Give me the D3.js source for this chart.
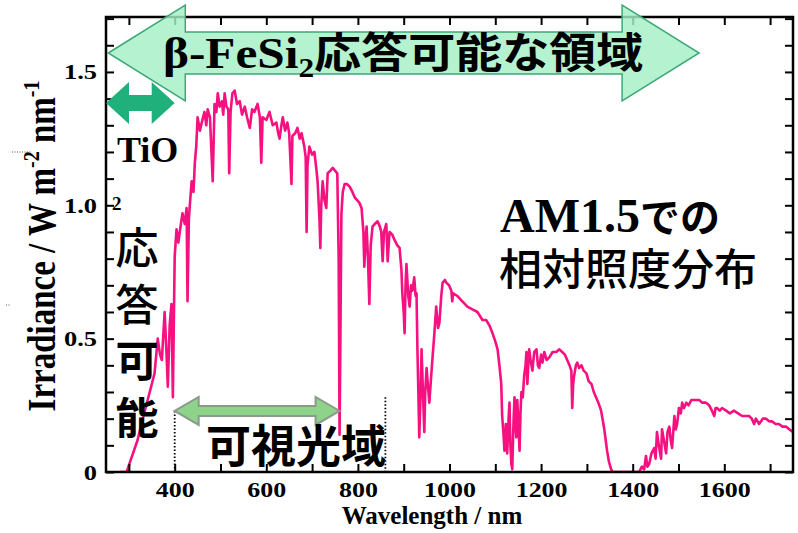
<!DOCTYPE html>
<html>
<head>
<meta charset="utf-8">
<script src="https://cdn.jsdelivr.net/npm/d3@7"></script>
<style>
  body { margin: 0; background: #fff; }
</style>
</head>
<body>
<script>
// AM1.5 spectrum (nm, W m-2 nm-1)
const wavelength = [280,295,305,319,330,341,350,356,363,368,372,378,382,385,389,393,396,400,404,408,411,417,422,426,428,431,433,437,441,444,447,450,455,459,465,469,472,477,483,487,491,494,498,503,506,509,513,517,519,522,526,531,536,542,547,553,558,564,569,574,581,586,589,592,600,607,614,622,626,629,633,636,641,646,650,655,657,663,668,673,677,683,686,688,690,694,700,705,709,712,716,718,720,723,727,731,734,740,745,750,755,758,760,762,764,767,771,776,782,788,793,803,808,812,814,817,819,822,825,828,832,837,843,848,851,854,857,862,865,869,875,880,886,891,895,897,900,902,904,906,910,913,916,919,923,926,928,930,932,934,937,939,942,945,947,950,953,956,960,963,967,971,975,978,982,985,990,993,999,1004,1006,1008,1017,1028,1039,1050,1061,1072,1080,1087,1094,1100,1105,1109,1113,1115,1118,1120,1123,1126,1129,1131,1133,1135,1137,1140,1142,1144,1146,1148,1150,1153,1155,1157,1160,1163,1166,1168,1170,1172,1174,1177,1181,1185,1190,1193,1196,1200,1203,1207,1212,1218,1225,1233,1240,1246,1252,1257,1262,1266,1268,1270,1272,1276,1279,1283,1288,1293,1299,1304,1310,1315,1320,1325,1331,1335,1338,1341,1344,1348,1353,1356,1414,1420,1425,1429,1432,1436,1441,1447,1450,1453,1457,1462,1464,1468,1473,1476,1480,1483,1486,1491,1494,1497,1501,1505,1508,1512,1517,1522,1528,1535,1545,1552,1560,1567,1573,1578,1581,1584,1590,1595,1604,1612,1621,1630,1639,1647,1654,1660,1665,1669,1676,1684,1691,1698,1704,1712,1719,1727,1735,1742,1750];
const irradiance = [0,0,0.05,0.12,0.20,0.27,0.33,0.37,0.50,0.44,0.42,0.60,0.45,0.32,0.55,0.63,0.28,0.81,0.91,0.86,0.90,0.97,0.93,0.99,0.64,0.95,1.00,1.09,1.05,1.16,1.22,1.33,1.28,1.31,1.35,1.30,1.36,1.33,1.09,1.38,1.35,1.42,1.37,1.39,1.34,1.42,1.37,1.36,1.12,1.35,1.42,1.43,1.38,1.39,1.34,1.37,1.33,1.29,1.36,1.35,1.38,1.33,1.16,1.33,1.32,1.35,1.30,1.31,1.27,1.25,1.30,1.33,1.28,1.31,1.27,1.08,1.26,1.27,1.29,1.25,1.27,1.22,1.18,0.90,1.15,1.22,1.19,1.20,1.14,1.09,0.95,0.84,1.00,1.09,1.02,0.99,1.12,1.13,1.14,1.13,1.12,0.80,0.14,0.55,0.97,1.05,1.08,1.08,1.07,1.05,1.03,1.01,0.99,0.90,0.77,0.88,0.92,0.80,0.63,0.85,0.92,0.93,0.94,0.92,0.90,0.79,0.90,0.93,0.79,0.90,0.89,0.87,0.85,0.84,0.76,0.67,0.60,0.52,0.70,0.78,0.66,0.62,0.70,0.68,0.73,0.66,0.67,0.46,0.30,0.13,0.30,0.46,0.30,0.15,0.30,0.39,0.32,0.26,0.36,0.43,0.52,0.62,0.54,0.56,0.66,0.71,0.72,0.71,0.70,0.68,0.64,0.67,0.66,0.64,0.62,0.61,0.60,0.57,0.57,0.55,0.52,0.49,0.46,0.40,0.33,0.21,0.14,0.08,0.18,0.07,0.20,0.26,0.10,0.03,0.01,0.20,0.28,0.18,0.13,0.27,0.20,0.08,0.22,0.30,0.28,0.36,0.40,0.45,0.33,0.40,0.46,0.42,0.38,0.45,0.46,0.40,0.39,0.44,0.41,0.45,0.42,0.43,0.45,0.45,0.46,0.45,0.44,0.42,0.40,0.38,0.24,0.33,0.36,0.40,0.41,0.39,0.40,0.38,0.37,0.34,0.33,0.30,0.28,0.26,0.23,0.19,0.16,0.12,0.08,0.04,0.01,0,0,0.02,0.01,0.06,0.02,0.03,0.07,0.09,0.05,0.15,0.10,0.05,0.16,0.12,0.07,0.15,0.17,0.12,0.09,0.21,0.16,0.18,0.24,0.22,0.26,0.24,0.26,0.25,0.27,0.27,0.27,0.26,0.26,0.25,0.23,0.21,0.24,0.24,0.23,0.24,0.23,0.22,0.23,0.22,0.21,0.21,0.21,0.20,0.18,0.20,0.18,0.20,0.20,0.19,0.19,0.18,0.18,0.17,0.17,0.16,0.15];

const xTickValues = [400, 600, 800, 1000, 1200, 1400, 1600];
const yTickValues = [0, 0.5, 1.0, 1.5];
const yTickLabels = ['0', '0.5', '1.0', '1.5'];

// annotation ranges (nm)
const tioRange = [250, 400];
const visibleRange = [400, 760];
const dottedAt = [400, 860];
const fesiRange = [255, 1545];

const width = 798, height = 533;
const margin = {left: 106, top: 17, right: 5, bottom: 61};
const serif = "'Liberation Serif', 'DejaVu Serif', serif";
const cjk = "'Noto Sans CJK JP', sans-serif";

var svg = d3.select('body')
    .append('svg')
    .attr('width', width)
    .attr('height', height);

var x = d3.scaleLinear().domain([250, 1750]).range([margin.left, width - margin.right]);
var y = d3.scaleLinear().domain([0, 1.706]).range([height - margin.bottom, margin.top]);

svg.append('clipPath').attr('id', 'plotClip')
    .append('rect')
    .attr('x', margin.left).attr('y', margin.top)
    .attr('width', width - margin.left - margin.right)
    .attr('height', height - margin.top - margin.bottom);

// the spectrum
var line = d3.line()
    .x((d, i) => x(wavelength[i]))
    .y(d => y(d));

svg.append('path')
    .datum(irradiance)
    .attr('clip-path', 'url(#plotClip)')
    .attr('fill', 'none')
    .attr('stroke', '#f7107f')
    .attr('stroke-width', 2.6)
    .attr('stroke-linejoin', 'round')
    .attr('d', line);

// axes, ticks point inward on all four sides
var xMinor = d3.range(300, 1800, 100);
var yMinor = d3.range(0, 1.75, 0.1);
var fmtX = d => xTickValues.includes(d) ? d : '';
var fmtY = d => {
    var k = yTickValues.findIndex(v => Math.abs(v - d) < 1e-6);
    return k >= 0 ? yTickLabels[k] : '';
};

function styleAxis(g) {
    g.select('.domain').remove();
    g.selectAll('line').attr('stroke', '#000').attr('stroke-width', 2);
    g.selectAll('text')
        .attr('fill', '#000')
        .style('font-family', serif)
        .style('font-weight', 'bold')
        .style('font-size', '22px');
}

svg.append('g')
    .attr('transform', `translate(0,${height - margin.bottom})`)
    .call(d3.axisBottom(x).tickValues(xMinor).tickSize(-8).tickSizeOuter(0).tickPadding(9).tickFormat(fmtX))
    .call(styleAxis)
    .call(g => g.selectAll('text').attr('transform', 'scale(1.18,1)'));

svg.append('g')
    .attr('transform', `translate(0,${margin.top})`)
    .call(d3.axisTop(x).tickValues(xMinor).tickSize(-8).tickSizeOuter(0).tickFormat(''))
    .call(styleAxis);

svg.append('g')
    .attr('transform', `translate(${margin.left},0)`)
    .call(d3.axisLeft(y).tickValues(yMinor).tickSize(-8).tickSizeOuter(0).tickPadding(7.5).tickFormat(fmtY))
    .call(styleAxis)
    .call(g => g.selectAll('text').attr('transform', 'scale(1.2,1)'));

svg.append('g')
    .attr('transform', `translate(${width - margin.right},0)`)
    .call(d3.axisRight(y).tickValues(yMinor).tickSize(-8).tickSizeOuter(0).tickFormat(''))
    .call(styleAxis);

svg.append('rect')
    .attr('x', margin.left).attr('y', margin.top)
    .attr('width', width - margin.left - margin.right)
    .attr('height', height - margin.top - margin.bottom)
    .attr('fill', 'none')
    .attr('stroke', '#000')
    .attr('stroke-width', 2.5);

// axis titles
svg.append('text')
    .attr('x', 432).attr('y', 524)
    .attr('text-anchor', 'middle')
    .style('font-family', serif).style('font-weight', 'bold').style('font-size', '25px')
    .text('Wavelength / nm');

var yt = svg.append('text')
    .attr('transform', 'translate(55,246) rotate(-90) scale(1,1.2)')
    .attr('text-anchor', 'middle')
    .style('font-family', serif).style('font-weight', 'bold').style('font-size', '33px');
yt.append('tspan').text('Irradiance / W m');
yt.append('tspan').attr('dy', -13).style('font-size', '20px').text('-2');
yt.append('tspan').attr('dy', 13).text(' nm');
yt.append('tspan').attr('dy', -13).style('font-size', '20px').text('-1');

// small stray marks at the left
svg.append('line').attr('x1', 12).attr('x2', 31).attr('y1', 152).attr('y2', 152)
    .attr('stroke', '#555').attr('stroke-width', 1).attr('stroke-dasharray', '1,1.5');
svg.append('line').attr('x1', 6).attr('x2', 10).attr('y1', 305).attr('y2', 305)
    .attr('stroke', '#555').attr('stroke-width', 1).attr('stroke-dasharray', '1,1.5');

// double-headed arrow as polygon
function doubleArrow(x0, x1, yc, body, head, headLen) {
    return [
        [x0, yc], [x0 + headLen, yc - head], [x0 + headLen, yc - body],
        [x1 - headLen, yc - body], [x1 - headLen, yc - head], [x1, yc],
        [x1 - headLen, yc + head], [x1 - headLen, yc + body],
        [x0 + headLen, yc + body], [x0 + headLen, yc + head]
    ].map(p => p.join(',')).join(' ');
}

// dotted guides
svg.selectAll('.guide')
    .data(dottedAt)
    .join('line')
    .attr('class', 'guide')
    .attr('x1', d => x(d)).attr('x2', d => x(d))
    .attr('y1', (d, i) => i == 0 ? y(0.229) : y(0.28))
    .attr('y2', y(0))
    .attr('stroke', '#000')
    .attr('stroke-width', 1.8)
    .attr('stroke-dasharray', '1.5,2');

// beta-FeSi2 arrow
svg.append('polygon')
    .attr('points', doubleArrow(x(fesiRange[0]), x(fesiRange[1]), y(1.571), 21, 48, 77))
    .attr('fill', '#a4efc6')
    .attr('fill-opacity', 0.82)
    .attr('stroke', '#3da878')
    .attr('stroke-width', 1.5);

var ft = svg.append('text')
    .attr('transform', 'translate(163,68) scale(1.12,1)')
    .style('font-weight', 'bold');
ft.append('tspan').style('font-family', serif).style('font-size', '44px').text('β-FeSi');
ft.append('tspan').style('font-family', serif).style('font-size', '28px').attr('dy', 9).text('2');
ft.append('tspan').style('font-family', cjk).style('font-size', '42px').attr('dy', -9).text('応答可能な領域');

// TiO2 arrow
svg.append('polygon')
    .attr('points', doubleArrow(x(tioRange[0]), x(tioRange[1]), y(1.384), 8, 21, 23))
    .attr('fill', '#20b07c');

svg.append('text')
    .attr('x', 117).attr('y', 162)
    .style('font-family', serif).style('font-weight', 'bold').style('font-size', '36px')
    .text('TiO');
svg.append('text')
    .attr('x', 112).attr('y', 210)
    .style('font-family', serif).style('font-weight', 'bold').style('font-size', '19px')
    .text('2');

var colChars = ['応', '答', '可', '能'];
svg.selectAll('.col')
    .data(colChars)
    .join('text')
    .attr('class', 'col')
    .attr('x', 137)
    .attr('y', (d, i) => 264 + i * 56.5)
    .attr('text-anchor', 'middle')
    .style('font-family', cjk)
    .style('font-weight', (d, i) => i < 2 ? 500 : 'bold')
    .style('font-size', '43px')
    .text(d => d);

// visible-range arrow
svg.append('polygon')
    .attr('points', doubleArrow(x(visibleRange[0]), x(visibleRange[1]), y(0.229), 5, 14, 24))
    .attr('fill', '#8ed38a')
    .attr('stroke', '#8c9a8c')
    .attr('stroke-width', 2);

svg.append('text')
    .attr('x', 206).attr('y', 463)
    .style('font-family', cjk).style('font-weight', 'bold').style('font-size', '45px')
    .text('可視光域');

// AM1.5 note
var am = svg.append('text').attr('x', 500).attr('y', 232).style('font-weight', 'bold');
am.append('tspan').style('font-family', serif).style('font-size', '48px').text('AM1.5');
am.append('tspan').style('font-family', cjk).style('font-size', '40px').text('での');

svg.append('text')
    .attr('x', 499).attr('y', 285)
    .style('font-family', cjk).style('font-weight', 500).style('font-size', '43px')
    .text('相対照度分布');
</script>
</body>
</html>
